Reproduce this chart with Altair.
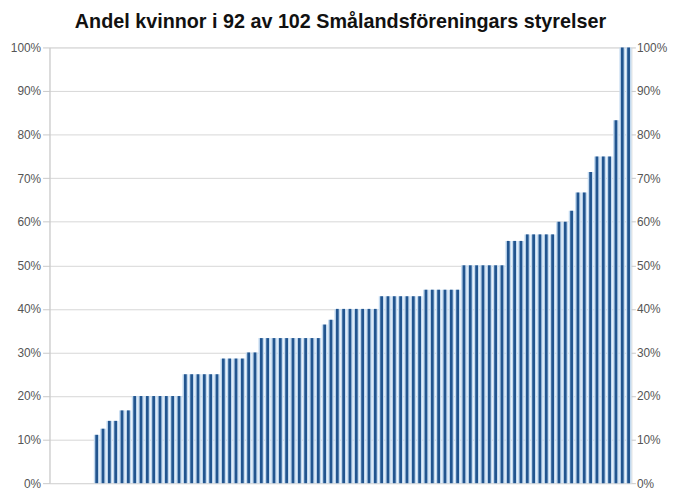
import altair as alt
import pandas as pd

title_text = "Andel kvinnor i 92 av 102 Smålandsföreningars styrelser"

# Andel kvinnor (%) per förening, sorterat stigande (92 föreningar)
andel = [
    0, 0, 0, 0, 0, 0, 0,
    11.1, 12.5, 14.3, 14.3, 16.7, 16.7,
    20, 20, 20, 20, 20, 20, 20, 20,
    25, 25, 25, 25, 25, 25,
    28.6, 28.6, 28.6, 28.6,
    30, 30,
    33.3, 33.3, 33.3, 33.3, 33.3, 33.3, 33.3, 33.3, 33.3, 33.3,
    36.4, 37.5,
    40, 40, 40, 40, 40, 40, 40,
    42.9, 42.9, 42.9, 42.9, 42.9, 42.9, 42.9,
    44.4, 44.4, 44.4, 44.4, 44.4, 44.4,
    50, 50, 50, 50, 50, 50, 50,
    55.6, 55.6, 55.6,
    57.1, 57.1, 57.1, 57.1, 57.1,
    60, 60,
    62.5,
    66.7, 66.7,
    71.4,
    75, 75, 75,
    83.3,
    100, 100,
]
forening = [f"F{i + 1:02d}" for i in range(len(andel))]
y_ticks = [0, 10, 20, 30, 40, 50, 60, 70, 80, 90, 100]

df = pd.DataFrame({"forening": forening, "andel": andel})

DARK = "#22558f"
LIGHT = "#c3daf0"
GRID = "#d6d6d6"
LABEL = "#555555"
FONT = "Liberation Sans"

x_enc = alt.X("forening:O", axis=None, sort=None,
              scale=alt.Scale(paddingInner=0.1, paddingOuter=0))

def yscale():
    return alt.Scale(domain=[0, 100], nice=False, zero=True)

left_axis = alt.Axis(values=y_ticks, labelExpr="datum.value + '%'", orient="left",
                     grid=True, gridColor=GRID, domainColor="#c8c8c8", tickColor="#c8c8c8",
                     tickSize=7, labelPadding=2, labelFont=FONT, labelFontSize=12,
                     labelColor=LABEL, title=None)
right_axis = alt.Axis(values=y_ticks, labelExpr="datum.value + '%'", orient="right",
                      grid=False, domain=False, tickColor="#c8c8c8",
                      tickSize=4, labelPadding=1, labelFont=FONT, labelFontSize=12,
                      labelColor=LABEL, title=None)

light = alt.Chart(df).mark_bar(color=LIGHT).encode(
    x=x_enc, y=alt.Y("andel:Q", scale=yscale(), axis=left_axis))
dark = alt.Chart(df).mark_bar(color=DARK, size=2.8).encode(
    x=x_enc, y=alt.Y("andel:Q", scale=yscale(), axis=None))
right = alt.Chart(df).mark_bar(opacity=0).encode(
    x=x_enc, y=alt.Y("andel:Q", scale=yscale(), axis=right_axis))

chart = alt.layer(light, dark, right).resolve_scale(y="independent").properties(
    width=589,
    height=441,
    title=alt.TitleParams(title_text, fontSize=20, font=FONT, fontWeight="bold",
                          color="#111111", anchor="middle", offset=10),
    autosize=alt.AutoSizeParams(type="none"),
    padding={"left": 42, "top": 37, "right": 37, "bottom": 6},
).configure_view(stroke=None).configure(background="white")

chart.save("out.html", embed_options={"renderer": "svg", "actions": False})
